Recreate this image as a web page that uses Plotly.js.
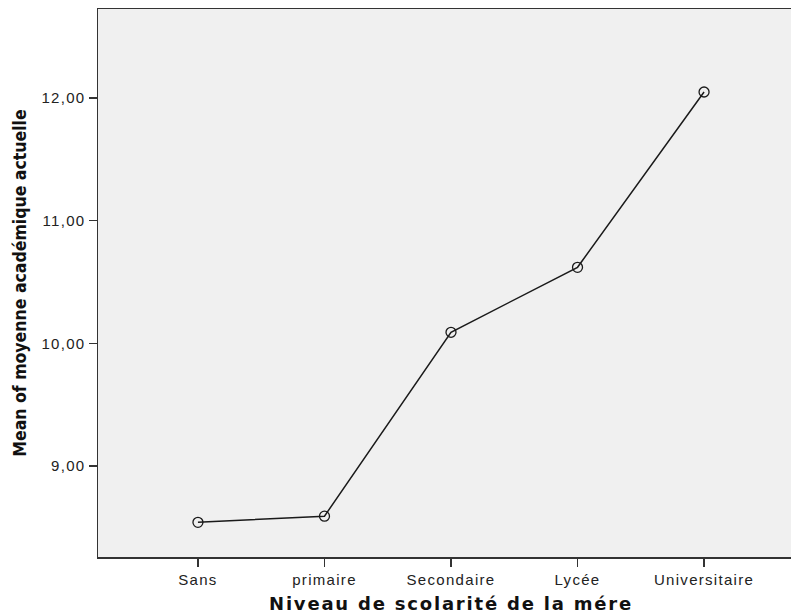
<!DOCTYPE html>
<html>
<head>
<meta charset="utf-8">
<script src="https://cdn.plot.ly/plotly-3.0.1.min.js"></script>
<style>
html,body{margin:0;padding:0;background:#fff;overflow:hidden;width:791px;height:614px;}
#chart{width:806px;height:614px;}
.xtick text,.ytick text{letter-spacing:1.3px;}
text.xtitle{letter-spacing:1.8px;}
text.ytitle{font-stretch:condensed;}
</style>
</head>
<body>
<div id="chart"></div>
<script>
const categories = ["Sans", "primaire", "Secondaire", "Lycée", "Universitaire"];
const meanValues = [8.54, 8.59, 10.09, 10.62, 12.05];
const yTickValues = [9, 10, 11, 12];

const trace = {
  x: categories,
  y: meanValues,
  type: "scatter",
  mode: "lines+markers",
  line: {color: "#1a1a1a", width: 1.5},
  marker: {symbol: "circle-open", size: 10, color: "#1a1a1a", line: {width: 1.3, color: "#1a1a1a"}},
  hoverinfo: "skip"
};

const layout = {
  width: 806,
  height: 614,
  margin: {l: 98, r: 2, t: 9, b: 57},
  paper_bgcolor: "#ffffff",
  plot_bgcolor: "#f0f0f0",
  separators: ",.",
  showlegend: false,
  xaxis: {
    type: "category",
    range: [-0.79, 4.79],
    showgrid: false,
    zeroline: false,
    showline: true,
    mirror: true,
    linecolor: "#333333",
    linewidth: 1.5,
    ticks: "outside",
    ticklen: 8,
    tickwidth: 1.5,
    tickcolor: "#333333",
    tickfont: {family: "Liberation Sans, Arial, sans-serif", size: 15, color: "#222"},
    title: {text: "Niveau de scolarité de la mére", font: {family: "DejaVu Sans, sans-serif", size: 18, color: "#111", weight: "bold"}, standoff: 11}
  },
  yaxis: {
    range: [8.257, 12.727],
    tickvals: yTickValues,
    tickformat: ".2f",
    showgrid: false,
    zeroline: false,
    showline: true,
    mirror: true,
    linecolor: "#333333",
    linewidth: 1.5,
    ticks: "outside",
    ticklen: 8,
    tickwidth: 1.5,
    tickcolor: "#333333",
    tickfont: {family: "Liberation Sans, Arial, sans-serif", size: 15, color: "#222"},
    title: {text: "Mean of moyenne académique actuelle", font: {family: "DejaVu Sans, sans-serif", size: 17.5, color: "#111", weight: "bold"}, standoff: 10}
  }
};

Plotly.newPlot("chart", [trace], layout, {displayModeBar: false, staticPlot: true});
</script>
</body>
</html>
